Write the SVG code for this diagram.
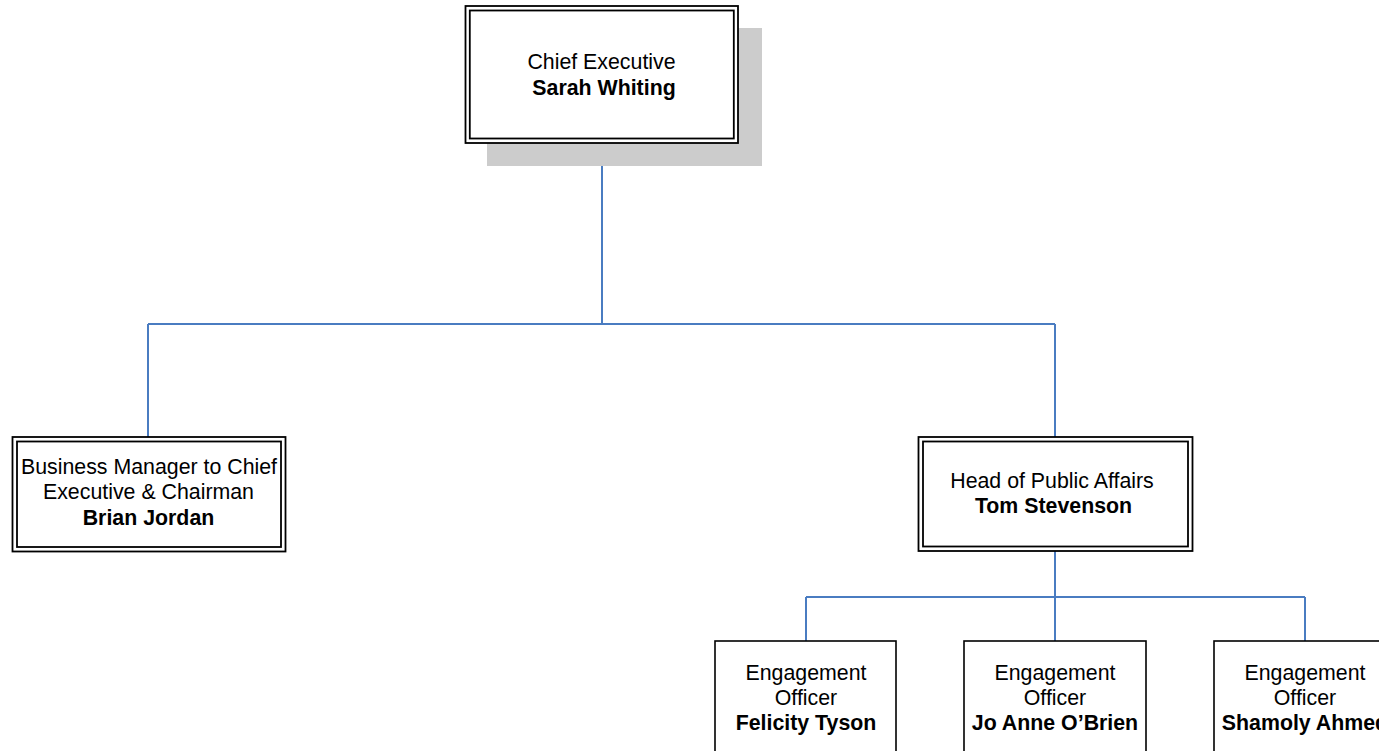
<svg xmlns="http://www.w3.org/2000/svg" width="1379" height="751" viewBox="0 0 1379 751">
<style>
text{font-family:"Liberation Sans",Arial,sans-serif;font-size:21.33px;fill:#000;text-anchor:middle}
.b{font-weight:bold}
.o{fill:#fff;stroke:#000;stroke-width:1.8}
.i{fill:none;stroke:#000;stroke-width:1.8}
.s{fill:#fff;stroke:#000;stroke-width:1.6}
.c{fill:none;stroke:#4a7cc1;stroke-width:2}
</style>
<rect width="1379" height="751" fill="#fff"/>
<g id="connectors">
<path class="c" d="M602 143V324M148 324H1055M148 324V437M1055 324V437"/>
<path class="c" d="M1055 551V597M806 597H1305M806 597V641M1055 597V641M1305 597V641"/>
</g>
<g id="chief">
<rect x="487" y="28" width="275" height="138" fill="#cccccc"/>
<rect class="o" x="465.5" y="6" width="272.5" height="137"/>
<rect class="i" x="469.8" y="10.5" width="264" height="128"/>
<text x="601.5" y="68.5">Chief Executive</text>
<text class="b" x="604" y="94.5">Sarah Whiting</text>
</g>
<g id="business">
<rect class="o" x="12.5" y="437" width="273" height="114.5"/>
<rect class="i" x="17" y="441.5" width="264" height="105.5"/>
<text x="149" y="473.5">Business Manager to Chief</text>
<text x="148.5" y="499">Executive &amp; Chairman</text>
<text class="b" x="148.5" y="525">Brian Jordan</text>
</g>
<g id="head">
<rect class="o" x="918.5" y="437" width="274" height="114"/>
<rect class="i" x="923" y="441.5" width="265" height="105"/>
<text x="1052" y="487.5">Head of Public Affairs</text>
<text class="b" x="1053.5" y="513">Tom Stevenson</text>
</g>
<g id="felicity">
<rect class="s" x="715" y="641" width="181" height="120"/>
<text x="806" y="680">Engagement</text>
<text x="806" y="705">Officer</text>
<text class="b" x="806" y="729.5">Felicity Tyson</text>
</g>
<g id="joanne">
<rect class="s" x="964" y="641" width="182" height="120"/>
<text x="1055" y="680">Engagement</text>
<text x="1055" y="705">Officer</text>
<text class="b" x="1055" y="729.5">Jo Anne O’Brien</text>
</g>
<g id="shamoly">
<rect class="s" x="1214" y="641" width="182" height="120"/>
<text x="1305" y="680">Engagement</text>
<text x="1305" y="705">Officer</text>
<text class="b" x="1305" y="729.5">Shamoly Ahmed</text>
</g>
</svg>
